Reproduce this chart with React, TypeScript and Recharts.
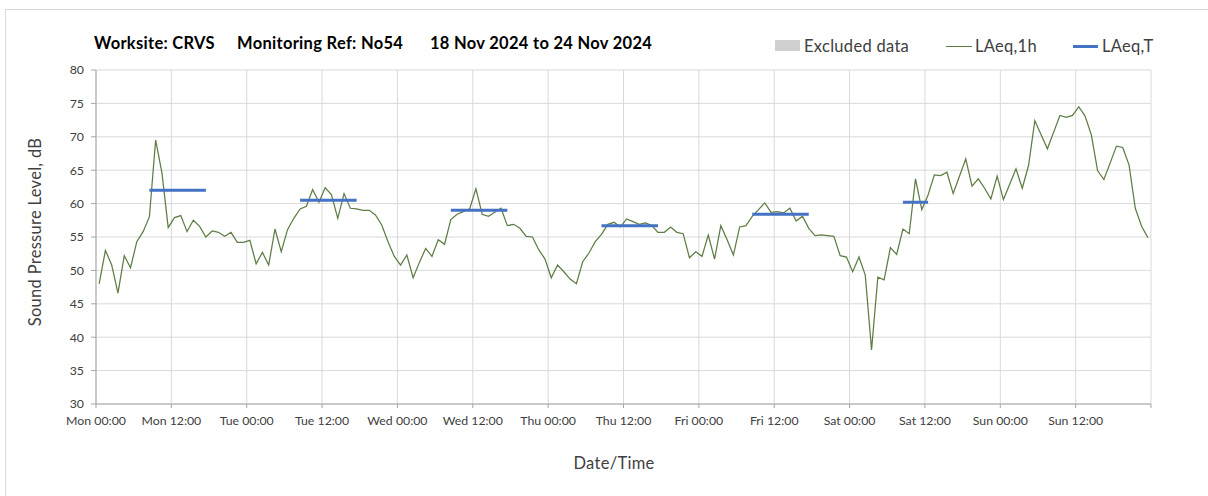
import React from 'react';
import { LineChart, Line, XAxis, YAxis, CartesianGrid } from 'recharts';

// Hourly LAeq,1h values (Mon 00:00 .. Sun 23:00)
const laeqMon = [48.0, 53.0, 50.8, 46.6, 52.2, 50.4, 54.3, 55.8, 58.0, 69.5, 64.6, 56.4, 57.9, 58.2, 55.8, 57.5, 56.6, 55.0, 55.9, 55.7, 55.1, 55.7, 54.2, 54.2];
const laeqTue = [54.5, 51.0, 52.7, 50.8, 56.2, 52.8, 56.1, 57.8, 59.2, 59.6, 62.1, 60.2, 62.4, 61.3, 57.8, 61.5, 59.3, 59.2, 59.0, 59.0, 58.3, 56.8, 54.3, 52.1];
const laeqWed = [50.8, 52.3, 48.9, 51.2, 53.3, 52.1, 54.6, 53.9, 57.6, 58.4, 58.8, 59.2, 62.2, 58.4, 58.1, 58.7, 59.3, 56.7, 56.9, 56.3, 55.1, 55.0, 53.1, 51.7];
const laeqThu = [48.9, 50.8, 49.8, 48.7, 48.0, 51.3, 52.6, 54.3, 55.4, 56.9, 57.2, 56.5, 57.7, 57.3, 56.9, 57.1, 56.7, 55.7, 55.7, 56.5, 55.7, 55.5, 51.9, 52.8];
const laeqFri = [52.1, 55.3, 51.7, 56.7, 54.6, 52.3, 56.5, 56.7, 58.1, 59.1, 60.1, 58.7, 58.8, 58.6, 59.3, 57.4, 58.1, 56.3, 55.2, 55.3, 55.2, 55.1, 52.2, 52.0];
const laeqSat = [49.8, 52.0, 49.3, 38.1, 49.0, 48.6, 53.4, 52.4, 56.2, 55.5, 63.7, 59.1, 61.3, 64.3, 64.2, 64.7, 61.5, 64.1, 66.7, 62.6, 63.7, 62.3, 60.7, 64.1];
const laeqSun = [60.6, 62.9, 65.2, 62.3, 65.7, 72.4, 70.3, 68.2, 70.7, 73.2, 72.9, 73.2, 74.5, 73.1, 70.3, 64.9, 63.6, 66.1, 68.6, 68.4, 65.8, 59.3, 56.6, 54.9];

// LAeq,T periods (hour index start/end) and levels
const periodStart = [8, 32, 56, 80, 104, 128];
const periodEnd = [17, 41, 65, 89, 113, 132];
const periodLevel = [62.0, 60.5, 59.0, 56.7, 58.4, 60.2];

const xTicks = [0, 12, 24, 36, 48, 60, 72, 84, 96, 108, 120, 132, 144, 156, 168];
const xTickLabels = ['Mon 00:00', 'Mon 12:00', 'Tue 00:00', 'Tue 12:00', 'Wed 00:00', 'Wed 12:00', 'Thu 00:00', 'Thu 12:00', 'Fri 00:00', 'Fri 12:00', 'Sat 00:00', 'Sat 12:00', 'Sun 00:00', 'Sun 12:00', ''];
const yTicks = [30, 35, 40, 45, 50, 55, 60, 65, 70, 75, 80];

const hourly = [...laeqMon, ...laeqTue, ...laeqWed, ...laeqThu, ...laeqFri, ...laeqSat, ...laeqSun];

const data = hourly.map((v, i) => {
  let t: number | null = null;
  periodStart.forEach((s, k) => {
    if (i >= s && i <= periodEnd[k]) t = periodLevel[k];
  });
  return { x: i + 0.5, h: v, t };
});

const FONT = 'Lato, "Open Sans", sans-serif';
const GREEN = '#5e7d45';
const BLUE = '#4472c4';

export default function App() {
  const tickStyle = { fontSize: 12.3, fill: '#404040', fontFamily: FONT };
  const txt = { fontSize: 16.5, letterSpacing: 0.3, color: '#404040', lineHeight: '18px', whiteSpace: 'nowrap' as const };
  return (
    <div style={{ position: 'absolute', left: 0, top: 0, width: 1208, height: 496, overflow: 'hidden', background: '#fff', fontFamily: FONT }}>
      <div style={{ position: 'absolute', left: 5, top: 9, width: 1300, height: 600, border: '1px solid #d9d9d9' }} />
      <div style={{ position: 'absolute', left: 0, top: 0 }}>
        <LineChart width={1208} height={496} data={data} margin={{ top: 70, right: 57, bottom: 0, left: 0 }}>
          <CartesianGrid stroke="#d9d9d9" strokeWidth={1} />
          <XAxis
            dataKey="x"
            type="number"
            domain={[0, 168]}
            ticks={xTicks}
            interval={0}
            tickFormatter={(v: number) => xTickLabels[xTicks.indexOf(v)] ?? ''}
            height={92}
            tickSize={4}
            tickMargin={8}
            stroke="#a6a6a6"
            tick={tickStyle}
            allowDataOverflow
          />
          <YAxis
            type="number"
            domain={[30, 80]}
            ticks={yTicks}
            interval={0}
            width={96}
            tickSize={5}
            tickMargin={7}
            stroke="#a6a6a6"
            tick={tickStyle}
          />
          <Line dataKey="h" type="linear" stroke={GREEN} strokeWidth={1.25} dot={false} activeDot={false} isAnimationActive={false} />
          <Line dataKey="t" type="linear" stroke={BLUE} strokeWidth={3} dot={false} activeDot={false} connectNulls={false} isAnimationActive={false} />
        </LineChart>
      </div>

      {/* Title */}
      <div style={{ position: 'absolute', top: 34, left: 94, fontSize: 16.5, letterSpacing: 0.3, fontWeight: 700, color: '#000', lineHeight: '18px', whiteSpace: 'nowrap' }}>
        <span style={{ position: 'absolute', left: 0 }}>Worksite: CRVS</span>
        <span style={{ position: 'absolute', left: 143 }}>Monitoring Ref: No54</span>
        <span style={{ position: 'absolute', left: 336 }}>18 Nov 2024 to 24 Nov 2024</span>
      </div>

      {/* Legend */}
      <div style={{ position: 'absolute', left: 775, top: 40, width: 25, height: 11, background: '#d0d0d0' }} />
      <div style={{ position: 'absolute', left: 804, top: 37, ...txt }}>Excluded data</div>
      <div style={{ position: 'absolute', left: 946, top: 45.5, width: 26, height: 1.3, background: GREEN }} />
      <div style={{ position: 'absolute', left: 975, top: 37, ...txt }}>LAeq,1h</div>
      <div style={{ position: 'absolute', left: 1073, top: 44.5, width: 25, height: 3, background: BLUE }} />
      <div style={{ position: 'absolute', left: 1102, top: 37, ...txt }}>LAeq,T</div>

      {/* Axis titles */}
      <div style={{ position: 'absolute', left: 35, top: 232, transform: 'translate(-50%, -50%) rotate(-90deg)', ...txt }}>Sound Pressure Level, dB</div>
      <div style={{ position: 'absolute', left: 614, top: 463, transform: 'translate(-50%, -50%)', ...txt }}>Date/Time</div>
    </div>
  );
}
